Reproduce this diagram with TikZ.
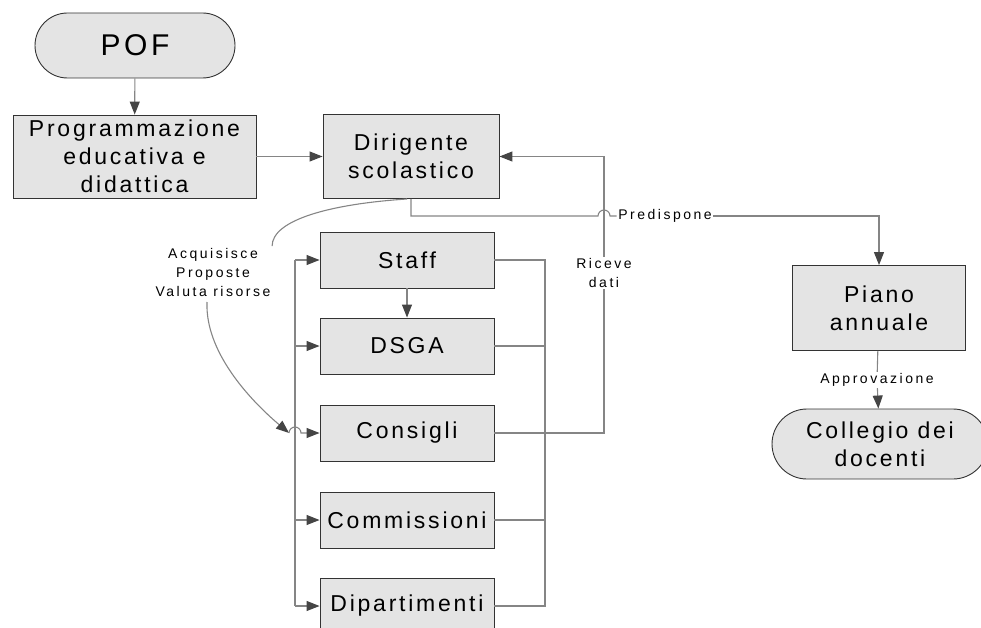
\documentclass[tikz,border=0pt]{standalone}
\usepackage{fontspec}
\usetikzlibrary{arrows.meta,shapes.misc}
\newfontfamily\boxfont{Liberation Sans}[LetterSpace=12]
\newfontfamily\lblfont{Liberation Sans}[LetterSpace=18]
\definecolor{boxfill}{HTML}{E4E4E4}
\definecolor{boxline}{HTML}{333333}
\definecolor{linegray}{HTML}{858585}
\definecolor{tipgray}{HTML}{454545}
\tikzset{
  box/.style={draw=boxline, fill=boxfill, line width=0.9pt, align=center, inner sep=0pt,
    minimum width=174pt, minimum height=56pt, font=\boxfont\fontsize{23}{28}\selectfont},
  term/.style={box, rounded rectangle},
  lbl/.style={fill=white, inner sep=1.5pt, align=center, font=\lblfont\fontsize{14}{19}\selectfont},
  line/.style={draw=linegray, line width=1.1pt},
  arr/.style={line, -{Triangle[length=13pt,width=10pt,color=tipgray]}}
}
\begin{document}
\begin{tikzpicture}[x=1pt, y=-1pt]
	\useasboundingbox (0,0) rectangle (981,628);
	
	\node[term, minimum width=200pt, minimum height=65pt, font=\boxfont\fontsize{30}{34}\selectfont] (pof) at (135,45.5) {POF};
	\node[box, minimum width=243pt, minimum height=83pt] (prog) at (134.5,156.5) {Programmazione\\educativa e\\didattica};
	\node[box, minimum width=176pt, minimum height=84pt] (dir) at (411,156.5) {Dirigente\\scolastico};
	\node[box, minimum width=173pt, minimum height=85pt] (piano) at (879,308) {Piano\\annuale};
	\node[term, minimum width=216pt, minimum height=70pt] (coll) at (880,444) {Collegio dei\\docenti};
	
	\foreach \n/\t/\y in {staff/Staff/260, dsga/DSGA/346, cons/Consigli/433, comm/Commissioni/520, dip/Dipartimenti/606}
		\node[box] (\n) at (407,\y) {\t};
	
	\node[lbl] (pred) at (665,216) {Predispone};
	\node[lbl] (ric) at (604,273) {Riceve\\dati};
	\node[lbl, fill=none] (acq) at (213,272) {Acquisisce\\Proposte\\Valuta risorse};
	\node[lbl] (appr) at (877,380) {Approvazione};
	
	\coordinate (ltop) at (295,260);
	\coordinate (lbot) at (295,606);
	\coordinate (rtop) at (545,260);
	\coordinate (rbot) at (545,606);
	\coordinate (hop) at (598,216);
	\coordinate (ctip) at (289,433);
	
	\draw[arr] (pof) -- (prog);
	\draw[arr] (prog) -- (dir);
	\draw[line] (dir.south) |- (hop) arc[start angle=180, end angle=0, radius=6pt] -- (pred.west);
	\draw[arr] (pred.east) -| (piano.north);
	\draw[line] (piano) -- (appr);
	\draw[arr] (appr) -- (coll);
	
	% riceve dati
	\draw[line] (cons.east) -| (ric.south);
	\draw[arr] (ric.north) |- (dir.east);
	
	% bus a destra
	\draw[line] (staff.east) -- (rtop) -- (rbot) -- (dip.east);
	\foreach \n in {dsga, comm}
		\draw[line] (\n.east) -- (\n.east -| rtop);
	
	% bus a sinistra
	\draw[line] (ltop) -- (lbot);
	\foreach \n in {staff, dsga, comm, dip}
		\draw[arr] (\n.west -| ltop) -- (\n.west);
	\draw[arr] (staff) -- (dsga);
	
	% acquisisce
	\draw[line] (407,199) .. controls (330,204) and (272,220) .. (acq.north east);
	\draw[arr] (207,302) .. controls (205,352) and (250,400) .. (ctip);
	\draw[arr] (ctip) -- (289,433) arc[start angle=180, end angle=0, radius=6pt] -- (cons.west);
\end{tikzpicture}
\end{document}
